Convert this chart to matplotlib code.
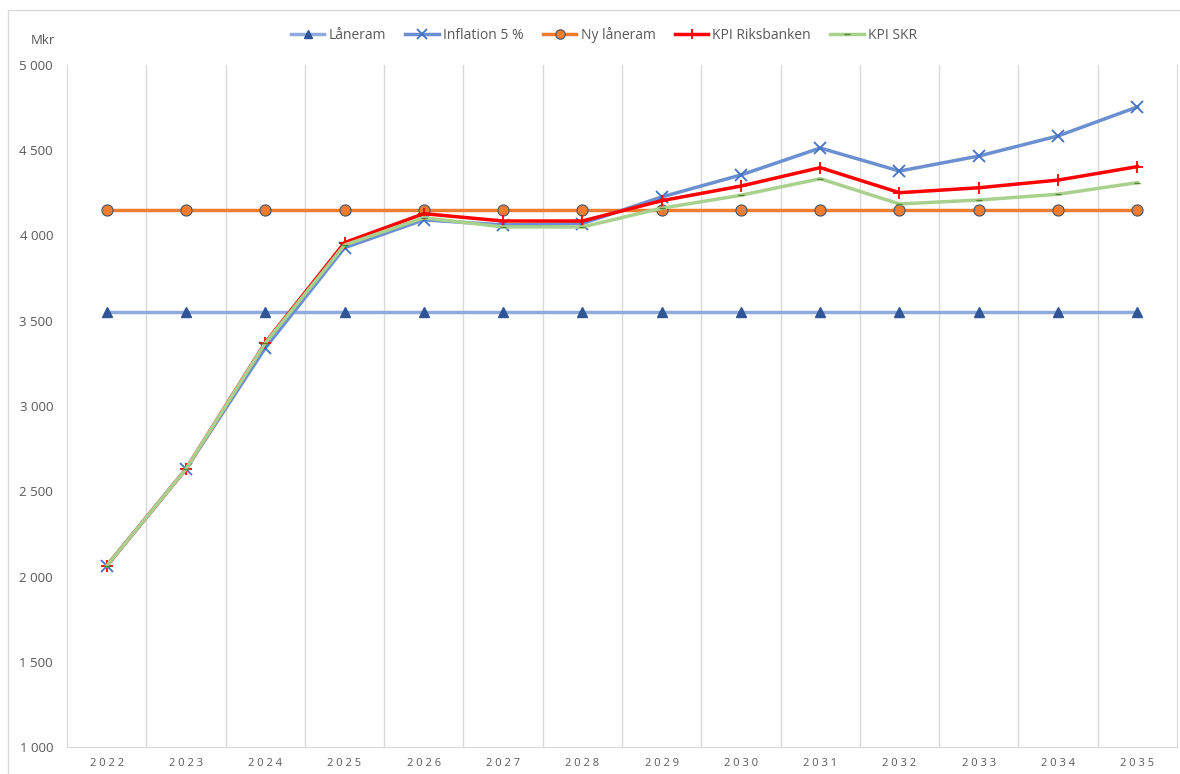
import matplotlib.pyplot as plt
from matplotlib.patches import Rectangle
from matplotlib.ticker import FuncFormatter, MultipleLocator

plt.rcParams['font.family'] = ['Open Sans', 'DejaVu Sans']

years = [str(y) for y in range(2022, 2036)]
laneram = [3550] * 14
ny_laneram = [4150] * 14
inflation = [2062, 2630, 3340, 3928, 4092, 4062, 4070, 4226, 4355, 4513, 4378, 4466, 4584, 4754]
kpi_riksbanken = [2062, 2630, 3371, 3958, 4128, 4085, 4085, 4204, 4290, 4398, 4251, 4280, 4325, 4404]
kpi_skr = [2062, 2630, 3368, 3944, 4104, 4050, 4050, 4160, 4236, 4333, 4185, 4208, 4242, 4310]

W, H = 1180, 774
fig = plt.figure(figsize=(W / 100, H / 100), dpi=100)
ax = fig.add_axes([67 / W, 1 - 747 / H, (1177 - 67) / W, (747 - 65) / H])

# frame around the whole chart
fig.patches.append(Rectangle((8 / W, -0.01), 1.0, 1 - 10 / H + 0.01, transform=fig.transFigure,
                             fill=False, edgecolor='#d9d9d9', linewidth=1))

x = list(range(len(years)))
ax.plot(x, laneram, color='#8faadc', lw=2.5, marker='^', ms=7, mfc='#2f5597', mec='#2f5597', label='Låneram', zorder=3)
ax.plot(x, inflation, color='#6b8fd0', lw=2.5, marker='x', ms=8, mew=1.3, mec='#4472c4', label='Inflation 5 %', zorder=4)
ax.plot(x, ny_laneram, color='#ed7d31', lw=2.5, marker='o', ms=8, mfc='#ed7d31', mec='#44546a', mew=0.8, label='Ny låneram', zorder=3)
ax.plot(x, kpi_riksbanken, color='#ff0000', lw=2.5, marker='+', ms=9, mew=1.3, label='KPI Riksbanken', zorder=5)
ax.plot(x, kpi_skr, color='#a9d18e', lw=2.5, marker='_', ms=5, mec='#548235', label='KPI SKR', zorder=6)

ax.set_xlim(-0.5, len(years) - 0.5)
ax.set_ylim(1000, 5000)
ax.yaxis.set_major_locator(MultipleLocator(500))
ax.yaxis.set_major_formatter(FuncFormatter(lambda v, p: f'{int(v):,}'.replace(',', ' ')))
ax.set_xticks(x)
ax.set_xticklabels([' '.join(y) for y in years], fontsize=8, color='#595959')
for b in range(1, len(years)):
    ax.axvline(b - 0.5, color='#d9d9d9', lw=1, zorder=1)
ax.tick_params(axis='y', labelsize=9.5, colors='#595959', length=0, pad=10)
ax.tick_params(axis='x', length=0, pad=8)
for s in ['left', 'bottom', 'right']:
    ax.spines[s].set_color('#d9d9d9')
ax.spines['top'].set_visible(False)

fig.text(43 / W, 1 - 40 / H, 'Mkr', fontsize=9.5, color='#595959', ha='center', va='center')

ax.legend(loc='center', bbox_to_anchor=(604 / W, 1 - 35 / H), bbox_transform=fig.transFigure,
          ncol=5, frameon=False, fontsize=10, labelcolor='#595959', handlelength=2.4,
          columnspacing=1.4, handletextpad=0.3, markerscale=0.85)

fig.savefig('out.png', dpi=100)
